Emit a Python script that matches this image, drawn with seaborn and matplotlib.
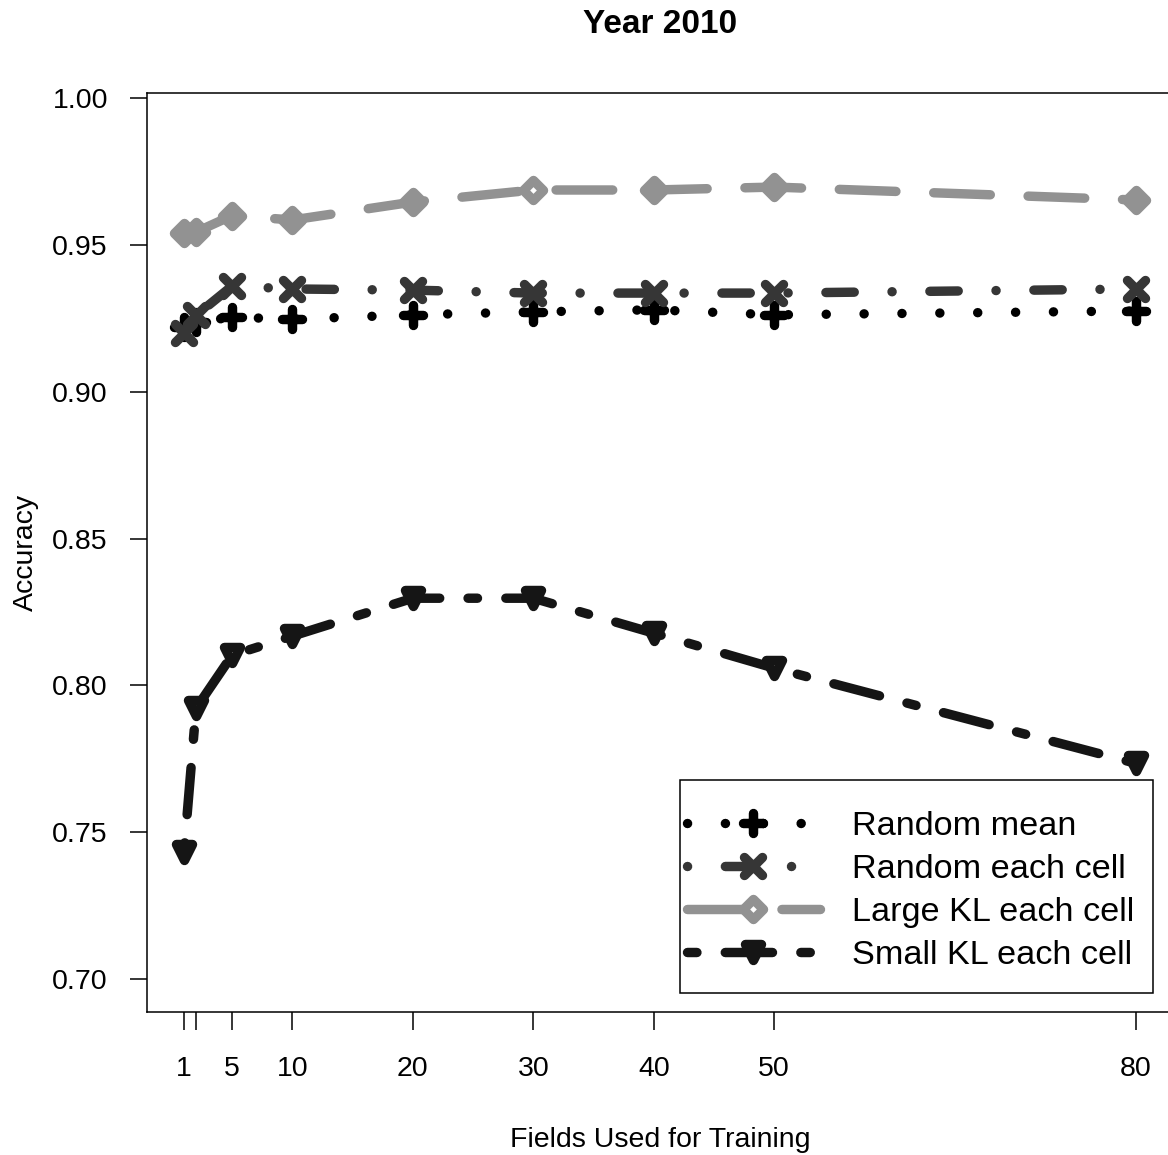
import matplotlib
matplotlib.use("Agg")
import matplotlib.pyplot as plt
from matplotlib.markers import MarkerStyle
from matplotlib.patches import Rectangle
import seaborn as sns

# values
fields = [1, 2, 5, 10, 20, 30, 40, 50, 80]
tick_labels = ["1", "", "5", "10", "20", "30", "40", "50", "80"]
random_mean = [0.922, 0.9237, 0.9254, 0.9247, 0.9262, 0.9272, 0.9279, 0.9262, 0.9275]
random_each = [0.920, 0.926, 0.936, 0.935, 0.9346, 0.9336, 0.9336, 0.9336, 0.935]
large_kl = [0.954, 0.9544, 0.960, 0.9585, 0.9646, 0.9687, 0.9687, 0.9697, 0.9653]
small_kl = [0.7432, 0.7922, 0.8103, 0.8168, 0.8297, 0.8297, 0.8178, 0.8059, 0.7735]
series_names = ["Random mean", "Random each cell", "Large KL each cell", "Small KL each cell"]

sns.set_theme(style="ticks")
plt.rcParams['font.family'] = ['Liberation Sans', 'DejaVu Sans']
plt.rcParams['lines.scale_dashes'] = True
plt.rcParams['text.color'] = 'black'
plt.rcParams['axes.labelcolor'] = 'black'

lw = 6.8
styles = [
    dict(color="#000000", linestyle=(0, (0.01, 4)),
         marker=MarkerStyle("+", capstyle="round"), markersize=14.5,
         markeredgewidth=lw, markeredgecolor="#000000"),
    dict(color="#363636", linestyle=(0, (0.01, 4, 3, 4)),
         marker=MarkerStyle("x", capstyle="round"), markersize=13.5,
         markeredgewidth=lw, markeredgecolor="#363636"),
    dict(color="#929292", linestyle=(0, (6, 4)),
         marker=MarkerStyle("D", joinstyle="round"), markersize=10.3,
         markeredgewidth=lw, markeredgecolor="#929292", markerfacecolor="none"),
    dict(color="#151515", linestyle=(0, (1, 3, 5, 3)),
         marker=MarkerStyle("v", joinstyle="round"), markersize=11.5,
         markeredgewidth=lw, markeredgecolor="#151515", markerfacecolor="none"),
]

fig = plt.figure(figsize=(11.68, 11.55), dpi=100)
ax = fig.add_axes([147 / 1168, 1 - 1012 / 1155, 1026 / 1168, 919.5 / 1155])

for vals, name, st in zip([random_mean, random_each, large_kl, small_kl], series_names, styles):
    sns.lineplot(x=fields, y=vals, ax=ax, label=name, linewidth=lw,
                 dash_capstyle="round", solid_capstyle="round", sort=False, **st)

ax.set_xlim(-2.07, 83.1)
ax.set_ylim(0.6888, 1.0019)
ax.set_xticks(fields, labels=tick_labels)
ax.set_yticks([0.70, 0.75, 0.80, 0.85, 0.90, 0.95, 1.00],
              labels=["0.70", "0.75", "0.80", "0.85", "0.90", "0.95", "1.00"])
ax.tick_params(axis="both", length=12.6, width=1.1, color="black",
               labelsize=20.5, labelcolor="black")
ax.tick_params(axis="y", pad=15.5)
ax.tick_params(axis="x", pad=19)
for sp in ax.spines.values():
    sp.set_color("black")
    sp.set_linewidth(1.1)

ax.set_title("Year 2010", fontsize=24, fontweight="bold", pad=43, color="black")
ax.set_xlabel("Fields Used for Training", fontsize=20.5, color="black")
ax.set_ylabel("Accuracy", fontsize=20.5, color="black")
ax.xaxis.set_label_coords(0.5, -0.125)
ax.yaxis.set_label_coords(-0.105, 0.5)

# legend without frame, box drawn separately to get R's padding
leg = ax.legend(loc="center left", bbox_to_anchor=(0.5263, 0.1316), frameon=False,
                fontsize=24.7, handlelength=3.87, handletextpad=0.93,
                labelspacing=0.35, borderpad=0, borderaxespad=0, numpoints=1,
                labelcolor="black")
ax.add_patch(Rectangle((0.5195, 0.0207), 0.9805 - 0.5195, 0.2523 - 0.0207,
                       transform=ax.transAxes, fill=False, edgecolor="black",
                       linewidth=1.1, zorder=5))

fig.savefig("out.png", dpi=100)
